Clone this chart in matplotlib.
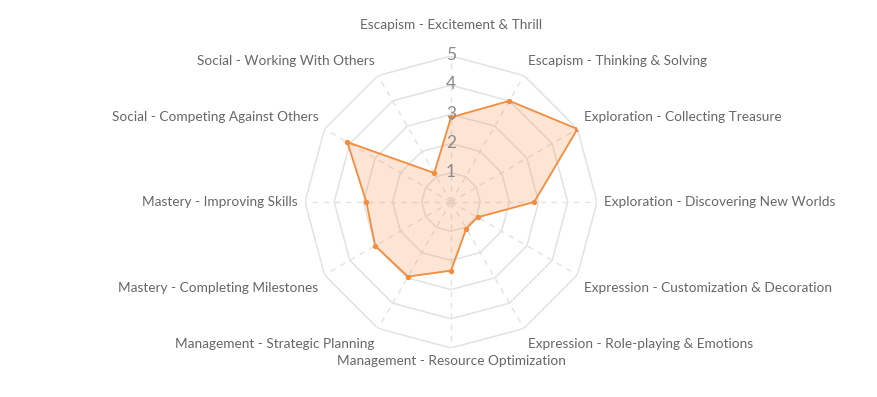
import numpy as np
import matplotlib
matplotlib.use("Agg")
import matplotlib.pyplot as plt

categories = [
    "Escapism - Excitement & Thrill",
    "Escapism - Thinking & Solving",
    "Exploration - Collecting Treasure",
    "Exploration - Discovering New Worlds",
    "Expression - Customization & Decoration",
    "Expression - Role-playing & Emotions",
    "Management - Resource Optimization",
    "Management - Strategic Planning",
    "Mastery - Completing Milestones",
    "Mastery - Improving Skills",
    "Social - Competing Against Others",
    "Social - Working With Others",
]
scores = [2.9, 4.0, 5.0, 2.85, 1.05, 1.05, 2.35, 2.95, 3.0, 2.9, 4.1, 1.15]
rings = [1, 2, 3, 4, 5]

LINE = "#f58b3c"
FILL = "#f58b3c"
GRID = "#e2e2e2"
TEXT = "#666666"

plt.rcParams["font.family"] = ["Lato", "DejaVu Sans"]

n = len(categories)
theta = np.arange(n) * 2 * np.pi / n
theta_c = np.append(theta, theta[0])

fig = plt.figure(figsize=(8.77, 3.97), dpi=100, facecolor="white")
ax = fig.add_axes([305 / 877, 49 / 397, 292 / 877, 292 / 397], projection="polar")
ax.set_theta_offset(np.pi / 2)
ax.set_theta_direction(-1)
ax.set_ylim(0, 5)
ax.grid(False)
ax.spines["polar"].set_visible(False)
ax.set_xticks([])
ax.set_yticks([])
ax.patch.set_alpha(0)

# polygon rings
for r in rings:
    ax.plot(theta_c, [r] * (n + 1), color=GRID, lw=1.1, zorder=1)
# dashed spokes
for t in theta:
    ax.plot([t, t], [0, 5], color=GRID, lw=1.0, ls=(0, (4, 4)), zorder=1)

vals = scores + scores[:1]
ax.fill(theta_c, vals, color=FILL, alpha=0.22, lw=0, zorder=2)
ax.plot(theta_c, vals, color=LINE, lw=1.3, zorder=3)
ax.scatter(theta, scores, s=8, color=LINE, zorder=4)

# ring value labels on the top spoke
for r in rings:
    ax.text(0, r + 0.03, str(r), ha="center", va="center", fontsize=12.5,
            color="#8a8a8a", zorder=5)

# category labels
for t, lab in zip(theta, categories):
    deg = np.degrees(t) % 360
    if deg == 0:
        ax.text(t, 5.85, lab, ha="center", va="bottom", fontsize=9.8, color=TEXT)
        continue
    dy = 0
    if deg == 180:
        ha, va, dy = "center", "top", 0
    else:
        ha = "left" if deg < 180 else "right"
        if deg in (90, 270):
            va = "center"
        elif deg < 90 or deg > 270:
            va, dy = "bottom", 2
        else:
            va, dy = "top", -3
    ax.annotate(lab, (t, 5.25), xytext=(0, dy), textcoords="offset pixels",
                ha=ha, va=va, fontsize=9.8, color=TEXT, annotation_clip=False)

fig.savefig("out.png", dpi=100, facecolor="white")
